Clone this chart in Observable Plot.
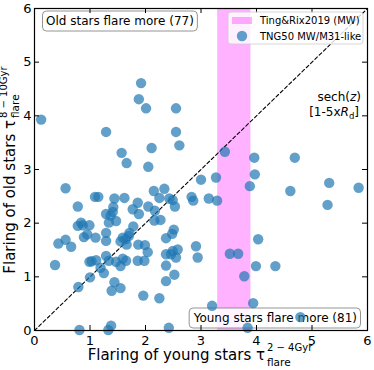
<!DOCTYPE html>
<html><head><meta charset="utf-8">
<script src="https://cdn.jsdelivr.net/npm/d3@7"></script>
<script src="https://cdn.jsdelivr.net/npm/@observablehq/plot@0.6"></script>
<style>body{margin:0;background:#fff}</style>
</head><body><div id="chart"></div>
<script>
const youngFlare = [0.12,1.88,1.92,2.01,2.55,1.29,2.55,2.61,2.11,1.57,1.66,2.05,3.43,3.96,4.69,3.97,3.27,3.00,3.88,4.61,5.31,5.84,5.28,
0.56,2.34,2.15,1.09,1.15,1.44,1.62,2.25,2.43,2.49,2.53,2.83,2.86,3.14,3.29,0.78,1.42,1.86,2.05,1.41,1.29,1.37,1.77,1.88,2.17,1.47,1.34,2.16,2.27,0.84,0.87,
0.78,0.99,1.78,2.51,2.48,2.37,0.95,1.10,0.89,1.29,1.71,1.29,0.43,0.56,0.66,1.55,1.64,1.70,1.66,1.87,1.99,2.04,2.91,4.03,1.59,
2.94,2.37,2.46,2.49,2.55,2.58,2.37,2.52,2.37,0.37,0.99,1.03,1.11,1.29,1.34,1.19,1.25,1.47,1.59,1.55,1.65,1.86,1.98,
1.00,0.79,1.44,1.39,1.55,1.96,2.25,3.52,3.67,3.78,3.99,4.34,3.94,3.20,4.79,3.84,2.42,1.38,1.33,0.81];
const oldFlare = [3.93,4.31,4.61,4.14,4.14,3.70,3.70,3.45,3.40,3.31,3.12,3.05,3.33,3.22,3.22,2.91,2.85,2.81,2.69,2.60,2.75,2.66,2.34,
2.65,2.64,2.60,2.49,2.49,2.46,2.47,2.47,2.46,2.43,2.31,2.49,2.42,2.46,2.42,2.31,2.30,2.38,2.31,2.21,2.17,2.14,2.26,2.17,2.23,2.04,2.01,2.05,2.06,2.01,1.96,
1.95,1.96,1.94,1.88,1.80,1.72,1.79,1.73,1.74,1.82,1.82,1.67,1.62,1.69,1.56,1.66,1.70,1.76,1.60,1.60,1.59,1.46,1.57,1.70,1.73,
1.36,1.42,1.42,1.48,1.36,1.51,1.21,1.04,0.92,1.22,1.28,1.29,1.31,1.39,1.30,1.17,1.07,1.28,1.34,1.20,1.30,1.30,1.30,
0.99,0.81,0.90,0.74,0.79,0.65,0.60,1.43,1.43,1.01,1.20,1.20,0.51,0.46,0.25,0.05,0.05,0.09,0.01,0.01];
const axisTicks = [0,1,2,3,4,5,6];
const tingRixBand = [3.3, 3.9];
const oldLabel = "Old stars flare more (77)";
const youngLabel = "Young stars flare more (81)";
const legendLabels = ["Ting&Rix2019 (MW)", "TNG50 MW/M31-like"];

const points = youngFlare.map((x, i) => ({x, y: oldFlare[i]}));
const W = 374, H = 370, mL = 34, mR = 7, mT = 8, mB = 40;
const pW = W - mL - mR, pH = H - mT - mB;
const FONT = "DejaVu Sans";

const svg = Plot.plot({
  width: W, height: H, marginLeft: mL, marginRight: mR, marginTop: mT, marginBottom: mB,
  style: {fontFamily: FONT, fontSize: "13px", background: "#fff", color: "#000", overflow: "visible"},
  x: {domain: [0, 6]},
  y: {domain: [0, 6]},
  marks: [
    Plot.rect([{x1: tingRixBand[0], x2: tingRixBand[1]}], {x1: "x1", x2: "x2", fill: "#ff00ff", fillOpacity: 0.3}),
    Plot.line(axisTicks, {x: d => d, y: d => d, stroke: "#000", strokeWidth: 1.1, strokeDasharray: "3.5,2.5"}),
    Plot.dot(points, {x: "x", y: "y", r: 5.2, fill: "#1f77b4", fillOpacity: 0.7, stroke: "none"}),
    Plot.tickX(axisTicks, {x: d => d, insetTop: pH - 5, stroke: "#000"}),
    Plot.tickX(axisTicks, {x: d => d, insetBottom: pH - 5, stroke: "#000"}),
    Plot.tickY(axisTicks, {y: d => d, insetRight: pW - 5, stroke: "#000"}),
    Plot.tickY(axisTicks, {y: d => d, insetLeft: pW - 5, stroke: "#000"}),
    Plot.axisX({ticks: axisTicks, tickSize: 0, tickPadding: 5, label: null, fontSize: 13, tickFormat: d => String(d)}),
    Plot.axisY({ticks: axisTicks, tickSize: 0, tickPadding: 3, label: null, fontSize: 13, tickFormat: d => String(d)}),
    Plot.frame({stroke: "#000", strokeWidth: 1.2})
  ]
});
document.getElementById("chart").appendChild(svg);
const s = d3.select(svg);
const dotsG = s.select('g[aria-label="dot"]').node();

function txt(parent, x, y, size, anchor) {
  return parent.append("text").attr("x", x).attr("y", y).attr("text-anchor", anchor || "start")
    .attr("font-family", FONT).attr("font-size", size).attr("fill", "#000");
}
// keep a text at the width seen in the reference, whatever the font metrics
function fit(t, target) {
  const w = t.node().getComputedTextLength();
  if (w > 0) {
    const f = target / w;
    if (f < 0.85 || f > 1.15) t.attr("font-size", (+t.attr("font-size") * f).toFixed(2));
  }
  return t;
}

function boxText(label, x, y, anchor, target) {
  const g = document.createElementNS("http://www.w3.org/2000/svg", "g");
  svg.insertBefore(g, dotsG);
  const gs = d3.select(g);
  const t = fit(txt(gs, x, y, 12, anchor).text(label), target);
  const b = t.node().getBBox();
  gs.insert("rect", "text").attr("x", b.x - 3.5).attr("y", b.y - 3).attr("width", b.width + 7).attr("height", b.height + 6)
    .attr("rx", 4).attr("fill", "#fff").attr("fill-opacity", 0.85).attr("stroke", "#888").attr("stroke-width", 0.9);
}
boxText(oldLabel, 46, 25, "start", 146);
boxText(youngLabel, 357, 322, "end", 162);

// sech(z) annotation
const a1 = txt(s, 361, 101, 12, "end");
a1.append("tspan").text("sech(");
a1.append("tspan").attr("font-style", "italic").text("z");
a1.append("tspan").text(")");
const a2 = txt(s, 359, 116, 12, "end");
a2.append("tspan").text("[1-5x");
a2.append("tspan").attr("font-style", "italic").text("R");
a2.append("tspan").attr("font-size", 8.5).attr("dy", 2.5).text("d");
a2.append("tspan").attr("dy", -2.5).text("]");

// axis labels
function axisLabel(g, main, sup, sub, supDy, subDy, target) {
  fit(txt(g, 0, 0, 15, "end").text(main), target);
  txt(g, 2, supDy, 10, "start").text(sup);
  txt(g, 2, subDy, 10.5, "start").text(sub);
}
axisLabel(s.append("g").attr("transform", "translate(265,360)"), "Flaring of young stars τ", "2 − 4Gyr", "flare", -9, 6, 176);
axisLabel(s.append("g").attr("transform", "translate(15,120) rotate(-90)"), "Flaring of old stars τ", "8 − 10Gyr", "flare", -8, 4, 152);

// legend
const lg = s.append("g");
lg.append("rect").attr("x", 228).attr("y", 12).attr("width", 135).attr("height", 32).attr("rx", 3)
  .attr("fill", "#fff").attr("fill-opacity", 0.8).attr("stroke", "#ccc").attr("stroke-width", 0.8);
lg.append("rect").attr("x", 232).attr("y", 17).attr("width", 20).attr("height", 7).attr("fill", "#ff00ff").attr("fill-opacity", 0.3);
lg.append("circle").attr("cx", 242).attr("cy", 36).attr("r", 5.2).attr("fill", "#1f77b4").attr("fill-opacity", 0.7);
txt(lg, 260, 24, 10, "start").text(legendLabels[0]);
txt(lg, 260, 39.5, 10, "start").text(legendLabels[1]);
</script></body></html>
